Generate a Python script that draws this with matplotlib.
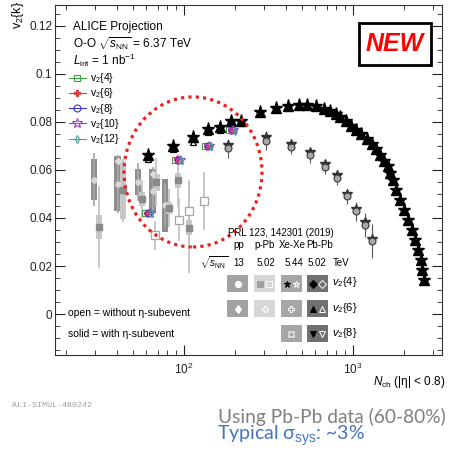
import matplotlib
matplotlib.use("Agg")
import matplotlib.pyplot as plt
import matplotlib.ticker as ticker
from matplotlib.patches import Rectangle, Ellipse
from matplotlib.lines import Line2D

plt.rcParams['font.family'] = ['Liberation Sans', 'DejaVu Sans']
plt.rcParams['mathtext.fontset'] = 'custom'
plt.rcParams['mathtext.rm'] = 'Liberation Sans'
plt.rcParams['mathtext.it'] = 'Liberation Sans:italic'

# ---- values ----
# O-O projection (6.37 TeV), v2{k}
oo_n = [61.5, 92.5, 139, 192]
oo_v4 = [0.0420, 0.0643, 0.0700, 0.0764]
oo_v6 = [0.0421, 0.0644, 0.0701, 0.0765]
oo_v8 = [0.0420, 0.0642, 0.0700, 0.0764]
oo_v10 = [0.0421, 0.0643, 0.0701, 0.0765]
oo_v12 = [0.0420, 0.0642, 0.0699, 0.0763]

# Pb-Pb 5.02 TeV v2{4}
pb_n = [61.5, 86.4, 112.6, 139, 163, 190, 217, 284, 350, 414, 479, 539, 604,
        673, 731, 793, 845, 909, 982, 1051, 1125, 1205, 1290, 1368, 1445, 1525,
        1604, 1655, 1725, 1796, 1896, 2003, 2115, 2234, 2328, 2427, 2516, 2572, 2631]
pb_v4 = [0.0660, 0.0701, 0.0736, 0.0771, 0.0777, 0.0805, 0.0805, 0.0840, 0.0858,
         0.0867, 0.0870, 0.0870, 0.0864, 0.0854, 0.0844, 0.0833, 0.0819, 0.0802,
         0.0784, 0.0767, 0.0750, 0.0729, 0.0708, 0.0685, 0.0663, 0.0639, 0.0615,
         0.0589, 0.0556, 0.0515, 0.0473, 0.0432, 0.0390, 0.0349, 0.0307, 0.0266,
         0.0224, 0.0183, 0.0141]
# Pb-Pb v2{6} at low multiplicity
pb6_n = [61.5, 86.4, 112.6, 139, 163, 190, 217]
pb6_v = [0.0645, 0.0688, 0.0718, 0.0757, 0.0765, 0.0793, 0.0795]

# Xe-Xe 5.44 TeV
xe_n = [183, 308, 433, 557, 682, 807, 925, 1043, 1178, 1290]
xe_v4 = [0.0705, 0.0736, 0.0708, 0.0674, 0.0625, 0.0580, 0.0501, 0.0439, 0.0383, 0.0314]
xe_v6 = [0.0690, 0.0722, 0.0695, 0.0660, 0.0612, 0.0568, 0.0490, 0.0428, 0.0372, 0.0303]
xe_err = [0.004, 0.004, 0.003, 0.003, 0.003, 0.003, 0.003, 0.004, 0.005, 0.007]

# pp 13 TeV
pp_n = [29.4, 40.6, 53.7, 65.3, 77.2]
pp_v4 = [0.0559, 0.0542, 0.0549, 0.0512, 0.0452]
pp_sys = [0.0085, 0.0114, 0.0055, 0.0090, 0.0110]
pp_stat = [0.011, 0.012, 0.008, 0.010, 0.009]
pp6_n = [40.6, 65.3]
pp6_v = [0.0636, 0.0584]

# p-Pb 5.02 TeV, solid = with eta gap
ppb_n = [31.6, 43.8, 56.7, 68.9, 81.5, 92.5, 107]
ppb_v = [0.0362, 0.0515, 0.0480, 0.0549, 0.0441, 0.0556, 0.0360]
ppb_sys = [0.0050, 0.0120, 0.0030, 0.0035, 0.0025, 0.0030, 0.0030]
ppb_stat = [0.017, 0.013, 0.008, 0.010, 0.008, 0.011, 0.019]
# open = without eta gap
ppbo_n = [67.3, 93.4, 107.5, 132]
ppbo_v = [0.0328, 0.0393, 0.0429, 0.0470]
ppbo_stat = [0.006, 0.009, 0.013, 0.012]

W, H = 449, 454
fig = plt.figure(figsize=(W / 100, H / 100), dpi=100)
ax = fig.add_axes([55 / W, 1 - 355 / H, 387 / W, 350 / H])
ax.set_xscale('log')
ax.set_xlim(17.3, 3370)
ax.set_ylim(-0.017, 0.1286)


def fx(px):
    return px / W


def fy(py):
    return 1 - py / H


def boxes(ns, vs, sy, color, hw=1.045):
    for n, v, s in zip(ns, vs, sy):
        ax.add_patch(Rectangle((n / hw, v - s), n * hw - n / hw, 2 * s,
                               fc=color, ec='none', zorder=1))


# small systems, grey
boxes(pp_n, pp_v4, pp_sys, '#8e8e8e')
boxes(ppb_n, ppb_v, ppb_sys, '#c9c9c9')
ax.errorbar(pp_n, pp_v4, yerr=pp_stat, fmt='o', ms=3.5, color='#d8d8d8',
            ecolor='#a8a8a8', elinewidth=1.3, capsize=0, zorder=2)
ax.plot(pp6_n, pp6_v, 'D', ms=3, color='#dcdcdc', zorder=2)
ax.errorbar(ppb_n, ppb_v, yerr=ppb_stat, fmt='s', ms=4.5, color='#8a8a8a',
            ecolor='#c4c4c4', elinewidth=1.3, capsize=0, zorder=2)
ax.errorbar(ppbo_n, ppbo_v, yerr=ppbo_stat, fmt='s', ms=6, mfc='white',
            mec='#a6a6a6', mew=0.9, ecolor='#c4c4c4', elinewidth=1.3,
            capsize=0, zorder=2)

# Xe-Xe
ax.errorbar(xe_n, xe_v6, yerr=xe_err, fmt='o', ms=5, mfc='#a8a8a8', mec='#3a3a3a',
            mew=0.8, ecolor='#555555', elinewidth=0.8, capsize=0, zorder=3)
ax.plot(xe_n, xe_v4, '*', ms=7, color='#333333', zorder=3)

# Pb-Pb
ax.plot(pb6_n, pb6_v, '^', ms=5, mfc='white', mec='black', mew=0.9, zorder=4)
ax.plot(pb_n, pb_v4, '^', ms=6.5, color='black', zorder=4)
ax.plot(pb_n, pb_v4, '*', ms=9.5, color='black', zorder=4)

# O-O projection
series = [
    (oo_v4, 0.965, dict(marker='s', mfc='none', mec='#3f9f3f', ms=5), 'v$_2${4}'),
    (oo_v6, 0.985, dict(marker='P', mfc='#d94040', mec='#d94040', ms=5), 'v$_2${6}'),
    (oo_v8, 1.0, dict(marker='o', mfc='none', mec='#3535c8', ms=5), 'v$_2${8}'),
    (oo_v10, 1.02, dict(marker='*', mfc='none', mec='#9a3fcc', ms=7), 'v$_2${10}'),
    (oo_v12, 1.04, dict(marker='d', mfc='none', mec='#3aa89a', ms=4), 'v$_2${12}'),
]
handles, labels = [], []
for vals, sh, st, lab in series:
    ax.plot([n * sh for n in oo_n], vals, ls='none', mew=0.8, zorder=5, **st)
    handles.append(Line2D([], [], color=st['mec'], lw=0.8, mew=0.8, **st))
    labels.append(lab)
ax.legend(handles, labels, loc='upper left', bbox_to_anchor=(0.036, 0.811),
          frameon=False, fontsize=7.5, handlelength=1.6, handletextpad=0.4,
          labelspacing=0.12, borderpad=0, borderaxespad=0)

# red dotted ellipse
ax.add_patch(Ellipse((0.3566, 0.523), 0.3566, 0.4286, transform=ax.transAxes,
                     fill=False, ec='#e8231f', lw=2.3, ls=(0, (1, 1.3)), zorder=6))

# axes style
ax.tick_params(which='both', direction='in', top=True, right=True,
               labelsize=8.5, colors='#222222', pad=2)
ax.tick_params(which='major', length=7)
ax.tick_params(which='minor', length=3.5)
ax.yaxis.set_major_locator(ticker.FixedLocator([0, 0.02, 0.04, 0.06, 0.08, 0.1, 0.12]))
ax.yaxis.set_minor_locator(ticker.MultipleLocator(0.005))
ax.yaxis.set_major_formatter(ticker.FuncFormatter(lambda v, p: '0' if abs(v) < 1e-9 else '%g' % v))
ax.xaxis.set_minor_formatter(ticker.NullFormatter())
ax.tick_params(axis='x', pad=5)
for s in ax.spines.values():
    s.set_color('#333333')
    s.set_linewidth(0.8)

# labels and texts
fig.text(fx(18), fy(1), 'v$_2${k}', rotation=90, ha='center', va='top', size=9)
fig.text(fx(445), fy(381.7), r'$N_{\rm ch}$ (|η| < 0.8)', ha='right', va='center', size=8.5)
fig.text(fx(72.7), fy(26.7), 'ALICE Projection', va='center', size=8.5)
fig.text(fx(72.7), fy(43.3), r'O-O $\sqrt{s_{\rm NN}}$ = 6.37 TeV', va='center', size=8.5)
fig.text(fx(72.7), fy(60), r'$L_{\rm int}$ = 1 nb$^{-1}$', va='center', size=8.5)
fig.text(fx(68.3), fy(312.7), 'open = without η-subevent', va='center', size=7.5)
fig.text(fx(68.3), fy(334), 'solid = with η-subevent', va='center', size=7.5)

# reference table
fig.text(fx(228), fy(233.3), 'PRL 123, 142301 (2019)', va='center', size=7)
for lab, x in [('pp', 233), ('p-Pb', 254), ('Xe-Xe', 278.5), ('Pb-Pb', 306)]:
    fig.text(fx(x), fy(245), lab, va='center', size=7)
fig.text(fx(200), fy(262.7), r'$\sqrt{s_{\rm NN}}$', va='center', size=7)
for lab, x in [('13', 233), ('5.02', 256.7), ('5.44', 284.5), ('5.02', 307.5), ('TeV', 333)]:
    fig.text(fx(x), fy(262.7), lab, va='center', size=7)
for lab, y in [('{4}', 281.7), ('{6}', 308.3), ('{8}', 333.3)]:
    fig.text(fx(331.7), fy(y), '$v_2$' + lab, va='center', size=8)

cols = [227.3, 254, 280.7, 307.3]
rows = [275, 300, 325]
cell_col = ['#a2a2a2', '#d6d6d6', '#a6a6a6', '#707070']
cells = {
    (0, 0): [('o', 'white', 'white')],
    (0, 1): [('s', '#a0a0a0', '#a0a0a0'), ('s', 'none', 'white')],
    (0, 2): [('*', 'black', 'black'), ('*', 'none', 'white')],
    (0, 3): [('D', 'black', 'black'), ('D', 'none', 'white')],
    (1, 0): [('d', 'white', 'white')],
    (1, 1): [('P', 'none', 'white')],
    (1, 2): [('P', 'none', 'white')],
    (1, 3): [('^', 'black', 'black'), ('^', 'none', 'white')],
    (2, 2): [('X', 'none', 'white')],
    (2, 3): [('v', 'black', 'black'), ('v', 'none', 'white')],
}
for (r, c), mks in cells.items():
    x0, y0 = cols[c], rows[r]
    fig.add_artist(Rectangle((fx(x0), fy(y0 + 17.3)), 21 / W, 17.3 / H,
                             transform=fig.transFigure, fc=cell_col[c], ec='none'))
    xs = [x0 + 10.5] if len(mks) == 1 else [x0 + 6, x0 + 15]
    for xm, (m, fc, ec) in zip(xs, mks):
        fig.add_artist(Line2D([fx(xm)], [fy(y0 + 8.6)], transform=fig.transFigure,
                              ls='none', marker=m, ms=4.5, mfc=fc, mec=ec, mew=0.7))

# NEW box
fig.add_artist(Rectangle((fx(359.3), fy(65)), 71.7 / W, 41.7 / H,
                         transform=fig.transFigure, fc='white', ec='black', lw=2))
fig.text(fx(395), fy(44), 'NEW', ha='center', va='center', size=18,
         color='#ff0000', weight='bold', style='italic')

# footer texts
fig.text(fx(12), fy(405.7), 'ALI-SIMUL-480242', va='center', size=6,
         family='Liberation Mono', color='#a0a0a0')
fig.text(fx(446), fy(416.7), 'Using Pb-Pb data (60-80%)', ha='right', va='center',
         size=13.8, family='Lato', color='#7f7f7f')
fig.text(fx(216.7), fy(436), r'Typical σ$_{\rm sys}$: ~3%', va='center',
         size=14, family='Lato', color='#4472c4')

fig.savefig('out.png', dpi=100)
